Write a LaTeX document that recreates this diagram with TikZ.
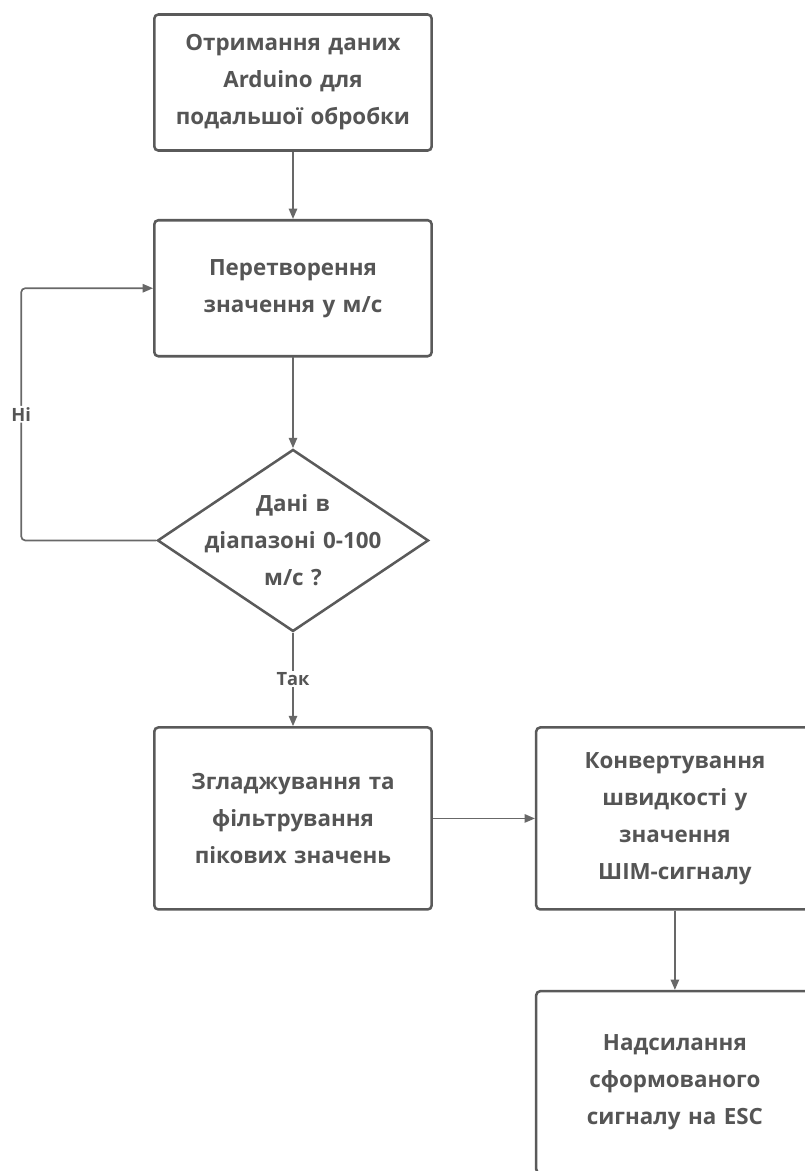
\documentclass[tikz,border=0pt]{standalone}
\usepackage{fontspec}
\setmainfont{Open Sans}
\usepackage{tikz}
\usetikzlibrary{%
  positioning,
  shapes.geometric,
  arrows.meta,
  matrix,
}
\definecolor{boxgray}{HTML}{5A5A5A}
\definecolor{textgray}{HTML}{555555}
\definecolor{linegray}{HTML}{686868}

\begin{document}
\begin{tikzpicture}[
        decision/.style = {
          diamond, aspect = 1.49, sharp corners,
          minimum width = 6.775cm, minimum height = 4.55cm,
          inner xsep = -1.2cm, inner ysep = -0.7cm,
        },
        lbl/.style = {
          fill = white, inner sep = 1pt,
          font = \bfseries\fontsize{13}{15}\selectfont,
          text = textgray,
        },
      ]
        \useasboundingbox (0,0) rectangle (20.125cm,-29.275cm);
        \clip (0,0) rectangle (20.125cm,-29.275cm);

        \matrix (M) [
          matrix anchor = get.center,
          column sep = 2.55cm,
          nodes = {
            draw = boxgray, line width = 1.8pt,
            rounded corners = 0.1cm,
            minimum width = 6.9cm, minimum height = 4.55cm,
            text width = 6.7cm, align = center,
            text = textgray,
            font = \bfseries\fontsize{15.9}{26.3}\selectfont,
            anchor = center,
          },
        ] at (7.325cm,-2.0625cm) {
          \node[minimum height = 3.4cm] (get) {Отримання даних\\Arduino для\\подальшої обробки}; & \\[1.68cm]
          \node[minimum height = 3.4cm] (conv) {Перетворення\\значення у м/с}; & \\[2.28cm]
          \node[decision] (check) {Дані в\\діапазоні 0-100\\м/с ?}; & \\[2.35cm]
          \node (smooth) {Згладжування та\\фільтрування\\пікових значень}; &
          \node (pwm) {Конвертування\\швидкості у\\значення\\ШІМ-сигналу}; \\[1.98cm]
          & \node (send) {Надсилання\\сформованого\\сигналу на ESC}; \\
        };

        \begin{scope}[line width = 1.2pt, linegray, >={Triangle[length = 0.26cm, width = 0.21cm]}, ->]
          \draw (get) -- (conv);
          \draw (conv) -- (check);
          \draw (check) -- node[lbl] (yes) {Так} (smooth);
          \draw (smooth) -- (pwm);
          \draw (pwm) -- (send);
          \draw[rounded corners = 0.1cm] (check.west) -- ++(-3.375cm,0) |- node[pos = 0.25, lbl] (no) {Ні} (conv.west);
        \end{scope}
      \end{tikzpicture}
\end{document}
